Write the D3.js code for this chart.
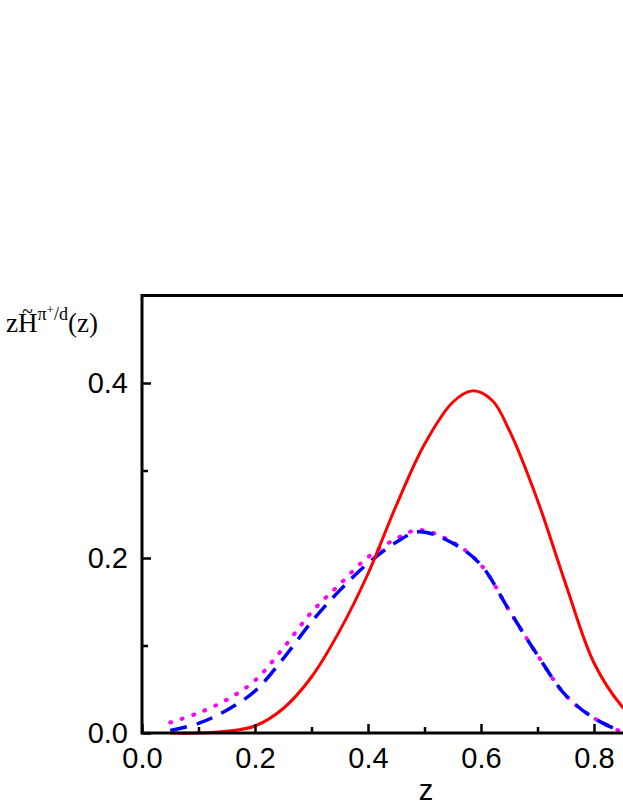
<!DOCTYPE html>
<html><head><meta charset="utf-8">
<script src="https://cdn.jsdelivr.net/npm/d3@7"></script>
<style>body{margin:0;background:#fff}</style>
</head><body>
<script>
// z grid and curves
var zRed = [0.05,0.1,0.15,0.2,0.25,0.3,0.35,0.4,0.45,0.5,0.55,0.585,0.62,0.65,0.7,0.75,0.8,0.85,0.87];
var red  = [0.0,0.0,0.002,0.008,0.028,0.064,0.117,0.182,0.26,0.33,0.378,0.391,0.38,0.346,0.266,0.17,0.08,0.03,0.018];
var zBlue = [0.05,0.1,0.15,0.2,0.25,0.3,0.35,0.4,0.45,0.49,0.55,0.6,0.65,0.7,0.75,0.8,0.85];
var blue  = [0.003,0.011,0.026,0.048,0.085,0.127,0.163,0.194,0.218,0.23,0.217,0.192,0.14,0.089,0.043,0.017,0.001];
var pink  = [0.012,0.023,0.038,0.06,0.097,0.138,0.17,0.201,0.222,0.232,0.218,0.192,0.14,0.089,0.043,0.017,0.001];
var xTicks = [0,0.2,0.4,0.6,0.8];
var yTicks = [0,0.2,0.4];

var svg = d3.select("body").append("svg").attr("width",623).attr("height",806);
var x = d3.scaleLinear().domain([0,1]).range([142,707]);
var y = d3.scaleLinear().domain([0,0.5]).range([733,295.5]);

svg.append("clipPath").attr("id","c").append("rect")
  .attr("x",142).attr("y",290).attr("width",481).attr("height",450);

var line = d3.line().curve(d3.curveCatmullRom);
function pts(zs, vs){ return zs.map(function(z,i){ return [x(z), y(vs[i])]; }); }

var g = svg.append("g").attr("clip-path","url(#c)");
g.append("path").attr("d", line(pts(zBlue,pink))).attr("fill","none")
  .attr("stroke","#ff00ff").attr("stroke-width",4).attr("stroke-dasharray","1,11").attr("stroke-linecap","round");
g.append("path").attr("d", line(pts(zBlue,blue))).attr("fill","none")
  .attr("stroke","#0000ff").attr("stroke-width",3.5).attr("stroke-dasharray","17,10");
g.append("path").attr("d", line(pts(zRed,red))).attr("fill","none")
  .attr("stroke","#ff0000").attr("stroke-width",3);

// axes
svg.append("g").attr("transform","translate(0,733)")
  .call(d3.axisBottom(x).tickValues(d3.range(0.1,0.9,0.2)).tickSize(-6).tickFormat(""))
  .call(function(a){a.select(".domain").remove();});
svg.append("g").attr("transform","translate(0,733)")
  .call(d3.axisBottom(x).tickValues(xTicks).tickSize(-9).tickPadding(14).tickFormat(d3.format(".1f")))
  .call(function(a){a.select(".domain").remove();});
svg.append("g").attr("transform","translate(142,0)")
  .call(d3.axisLeft(y).tickValues([0.1,0.3]).tickSize(-6).tickFormat(""))
  .call(function(a){a.select(".domain").remove();});
svg.append("g").attr("transform","translate(142,0)")
  .call(d3.axisLeft(y).tickValues(yTicks).tickSize(-9).tickPadding(14).tickFormat(d3.format(".1f")))
  .call(function(a){a.select(".domain").remove();});
svg.selectAll(".tick line").attr("stroke","#000").attr("stroke-width",2.5);
svg.selectAll(".tick text").attr("font-family","Liberation Sans, Arial").attr("font-size",29).attr("fill","#000");

svg.append("path").attr("d","M623,295.5H142V733H623").attr("fill","none").attr("stroke","#000").attr("stroke-width",3);

svg.append("text").attr("x",426).attr("y",800).attr("text-anchor","middle")
  .attr("font-family","Liberation Sans, Arial").attr("font-size",29).text("z");

var t = svg.append("text").attr("x",6).attr("y",332).attr("font-family","Liberation Serif, Times New Roman").attr("font-size",27);
t.append("tspan").text("zH");
t.append("tspan").attr("dy",-12).attr("font-size",18).text("\u03C0");
t.append("tspan").attr("dy",-6).attr("font-size",13).text("+");
t.append("tspan").attr("dy",6).attr("font-size",18).text("/d");
t.append("tspan").attr("dy",12).text("(z)");
svg.append("text").attr("x",22).attr("y",318).attr("font-family","Liberation Serif").attr("font-size",20).text("~");
</script>
</body></html>
